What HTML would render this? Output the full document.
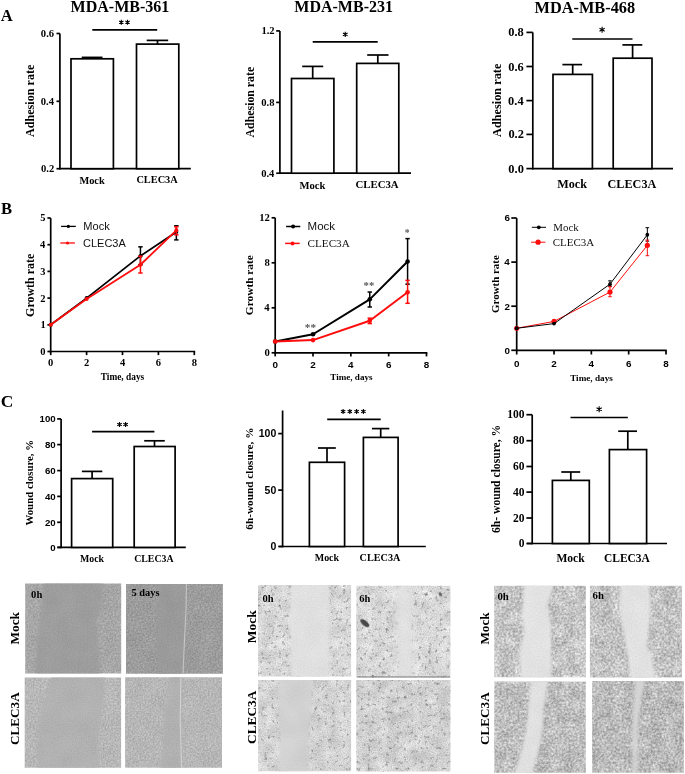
<!DOCTYPE html>
<html><head><meta charset="utf-8"><style>
html,body{margin:0;padding:0;background:#fff;overflow:hidden;}
svg{display:block;will-change:transform;}
</style></head><body>
<svg width="685" height="774" viewBox="0 0 685 774">
<defs>
<filter id="blur2" x="-0.2" y="-0.2" width="1.4" height="1.4"><feGaussianBlur stdDeviation="1.4"/></filter>
<filter id="blur1" x="-0.5" y="-0.5" width="2" height="2"><feGaussianBlur stdDeviation="0.7"/></filter>
<filter id="blur4" x="-0.3" y="-0.3" width="1.6" height="1.6"><feGaussianBlur stdDeviation="3.5"/></filter>
<filter id="blur3" x="-0.5" y="-0.5" width="2" height="2"><feGaussianBlur stdDeviation="2.5"/></filter>
<clipPath id="c1"><rect x="25.2" y="583.5" width="96" height="90.1" /></clipPath>
<filter id="f1" x="0" y="0" width="1" height="1" color-interpolation-filters="sRGB"><feTurbulence type="fractalNoise" baseFrequency="0.6" numOctaves="2" seed="1" result="t1"/><feColorMatrix in="t1" type="matrix" values="1 0 0 0 0 0 0 0 0 0 0 0 0 0 0 0 0 0 0 1" result="g1"/><feTurbulence type="fractalNoise" baseFrequency="0.06" numOctaves="2" seed="8" result="t2"/><feColorMatrix in="t2" type="matrix" values="0 0 0 0 0 1 0 0 0 0 0 0 0 0 0 0 0 0 0 1" result="g2"/><feComposite in="g1" in2="g2" operator="arithmetic" k1="0" k2="1" k3="1" k4="0" result="g3"/><feColorMatrix in="g3" type="matrix" values="0.24 0.05 0 0 0.5099 0.24 0.05 0 0 0.5099 0.24 0.05 0 0 0.5099 0 0 0 0 1"/></filter>
<mask id="m1_0" maskUnits="userSpaceOnUse" x="20.2" y="578.5" width="106" height="100.1"><polygon points="43.44,581.7 41.52,606.02 38.64,628.55 36.72,651.08 34.8,675.4 100.08,675.4 98.16,646.57 97.2,628.55 96.72,619.54 101.04,608.73 102.96,581.7" fill="#fff" filter="url(#blur2)"/></mask>
<filter id="f2" x="0" y="0" width="1" height="1" color-interpolation-filters="sRGB"><feTurbulence type="fractalNoise" baseFrequency="0.8" numOctaves="1" seed="51" result="t1"/><feColorMatrix in="t1" type="matrix" values="1 0 0 0 0 0 0 0 0 0 0 0 0 0 0 0 0 0 0 1" result="g1"/><feTurbulence type="fractalNoise" baseFrequency="0.05" numOctaves="2" seed="58" result="t2"/><feColorMatrix in="t2" type="matrix" values="0 0 0 0 0 1 0 0 0 0 0 0 0 0 0 0 0 0 0 1" result="g2"/><feComposite in="g1" in2="g2" operator="arithmetic" k1="0" k2="1" k3="1" k4="0" result="g3"/><feColorMatrix in="g3" type="matrix" values="0.1 0.04 0 0 0.5457 0.1 0.04 0 0 0.5457 0.1 0.04 0 0 0.5457 0 0 0 0 1"/></filter>
<clipPath id="c2"><rect x="126" y="584" width="96.9" height="89.8" /></clipPath>
<filter id="f3" x="0" y="0" width="1" height="1" color-interpolation-filters="sRGB"><feTurbulence type="fractalNoise" baseFrequency="0.6" numOctaves="2" seed="2" result="t1"/><feColorMatrix in="t1" type="matrix" values="1 0 0 0 0 0 0 0 0 0 0 0 0 0 0 0 0 0 0 1" result="g1"/><feTurbulence type="fractalNoise" baseFrequency="0.06" numOctaves="2" seed="9" result="t2"/><feColorMatrix in="t2" type="matrix" values="0 0 0 0 0 1 0 0 0 0 0 0 0 0 0 0 0 0 0 1" result="g2"/><feComposite in="g1" in2="g2" operator="arithmetic" k1="0" k2="1" k3="1" k4="0" result="g3"/><feColorMatrix in="g3" type="matrix" values="0.24 0.05 0 0 0.4668 0.24 0.05 0 0 0.4668 0.24 0.05 0 0 0.4668 0 0 0 0 1"/></filter>
<mask id="m2_0" maskUnits="userSpaceOnUse" x="121" y="579" width="106.9" height="99.8"><polygon points="157.98,582.2 157.98,628.9 157.01,675.6 183.17,675.6 185.11,628.9 186.08,582.2" fill="#fff" filter="url(#blur2)"/></mask>
<filter id="f4" x="0" y="0" width="1" height="1" color-interpolation-filters="sRGB"><feTurbulence type="fractalNoise" baseFrequency="0.8" numOctaves="1" seed="52" result="t1"/><feColorMatrix in="t1" type="matrix" values="1 0 0 0 0 0 0 0 0 0 0 0 0 0 0 0 0 0 0 1" result="g1"/><feTurbulence type="fractalNoise" baseFrequency="0.05" numOctaves="2" seed="59" result="t2"/><feColorMatrix in="t2" type="matrix" values="0 0 0 0 0 1 0 0 0 0 0 0 0 0 0 0 0 0 0 1" result="g2"/><feComposite in="g1" in2="g2" operator="arithmetic" k1="0" k2="1" k3="1" k4="0" result="g3"/><feColorMatrix in="g3" type="matrix" values="0.1 0.04 0 0 0.5339 0.1 0.04 0 0 0.5339 0.1 0.04 0 0 0.5339 0 0 0 0 1"/></filter>
<clipPath id="c3"><rect x="24.7" y="677.5" width="96.4" height="90.3" /></clipPath>
<filter id="f5" x="0" y="0" width="1" height="1" color-interpolation-filters="sRGB"><feTurbulence type="fractalNoise" baseFrequency="0.6" numOctaves="2" seed="3" result="t1"/><feColorMatrix in="t1" type="matrix" values="1 0 0 0 0 0 0 0 0 0 0 0 0 0 0 0 0 0 0 1" result="g1"/><feTurbulence type="fractalNoise" baseFrequency="0.06" numOctaves="2" seed="10" result="t2"/><feColorMatrix in="t2" type="matrix" values="0 0 0 0 0 1 0 0 0 0 0 0 0 0 0 0 0 0 0 1" result="g2"/><feComposite in="g1" in2="g2" operator="arithmetic" k1="0" k2="1" k3="1" k4="0" result="g3"/><feColorMatrix in="g3" type="matrix" values="0.24 0.05 0 0 0.5726 0.24 0.05 0 0 0.5726 0.24 0.05 0 0 0.5726 0 0 0 0 1"/></filter>
<mask id="m3_0" maskUnits="userSpaceOnUse" x="19.7" y="672.5" width="106.4" height="100.3"><polygon points="51.69,675.69 46.87,695.56 41.09,707.3 38.2,727.16 37.23,769.61 97.48,769.61 98.93,727.16 99.89,715.43 103.75,697.37 104.71,675.69" fill="#fff" filter="url(#blur2)"/></mask>
<filter id="f6" x="0" y="0" width="1" height="1" color-interpolation-filters="sRGB"><feTurbulence type="fractalNoise" baseFrequency="0.8" numOctaves="1" seed="53" result="t1"/><feColorMatrix in="t1" type="matrix" values="1 0 0 0 0 0 0 0 0 0 0 0 0 0 0 0 0 0 0 1" result="g1"/><feTurbulence type="fractalNoise" baseFrequency="0.05" numOctaves="2" seed="60" result="t2"/><feColorMatrix in="t2" type="matrix" values="0 0 0 0 0 1 0 0 0 0 0 0 0 0 0 0 0 0 0 1" result="g2"/><feComposite in="g1" in2="g2" operator="arithmetic" k1="0" k2="1" k3="1" k4="0" result="g3"/><feColorMatrix in="g3" type="matrix" values="0.1 0.04 0 0 0.6241 0.1 0.04 0 0 0.6241 0.1 0.04 0 0 0.6241 0 0 0 0 1"/></filter>
<clipPath id="c4"><rect x="125.1" y="677.3" width="96.9" height="90.5" /></clipPath>
<filter id="f7" x="0" y="0" width="1" height="1" color-interpolation-filters="sRGB"><feTurbulence type="fractalNoise" baseFrequency="0.6" numOctaves="2" seed="4" result="t1"/><feColorMatrix in="t1" type="matrix" values="1 0 0 0 0 0 0 0 0 0 0 0 0 0 0 0 0 0 0 1" result="g1"/><feTurbulence type="fractalNoise" baseFrequency="0.06" numOctaves="2" seed="11" result="t2"/><feColorMatrix in="t2" type="matrix" values="0 0 0 0 0 1 0 0 0 0 0 0 0 0 0 0 0 0 0 1" result="g2"/><feComposite in="g1" in2="g2" operator="arithmetic" k1="0" k2="1" k3="1" k4="0" result="g3"/><feColorMatrix in="g3" type="matrix" values="0.24 0.05 0 0 0.5687 0.24 0.05 0 0 0.5687 0.24 0.05 0 0 0.5687 0 0 0 0 1"/></filter>
<mask id="m4_0" maskUnits="userSpaceOnUse" x="120.1" y="672.3" width="106.9" height="100.5"><polygon points="170.64,675.49 168.7,695.4 164.83,713.5 163.86,731.6 160.95,769.61 181.79,769.61 180.33,722.55 180.82,675.49" fill="#fff" filter="url(#blur2)"/></mask>
<filter id="f8" x="0" y="0" width="1" height="1" color-interpolation-filters="sRGB"><feTurbulence type="fractalNoise" baseFrequency="0.8" numOctaves="1" seed="54" result="t1"/><feColorMatrix in="t1" type="matrix" values="1 0 0 0 0 0 0 0 0 0 0 0 0 0 0 0 0 0 0 1" result="g1"/><feTurbulence type="fractalNoise" baseFrequency="0.05" numOctaves="2" seed="61" result="t2"/><feColorMatrix in="t2" type="matrix" values="0 0 0 0 0 1 0 0 0 0 0 0 0 0 0 0 0 0 0 1" result="g2"/><feComposite in="g1" in2="g2" operator="arithmetic" k1="0" k2="1" k3="1" k4="0" result="g3"/><feColorMatrix in="g3" type="matrix" values="0.1 0.04 0 0 0.6202 0.1 0.04 0 0 0.6202 0.1 0.04 0 0 0.6202 0 0 0 0 1"/></filter>
<clipPath id="c5"><rect x="258" y="585" width="93.1" height="91.6" /></clipPath>
<filter id="f9" x="0" y="0" width="1" height="1" color-interpolation-filters="sRGB"><feTurbulence type="fractalNoise" baseFrequency="0.8" numOctaves="2" seed="5" result="t1"/><feColorMatrix in="t1" type="matrix" values="1 0 0 0 0 0 0 0 0 0 0 0 0 0 0 0 0 0 0 1" result="g1"/><feTurbulence type="fractalNoise" baseFrequency="0.08" numOctaves="2" seed="12" result="t2"/><feColorMatrix in="t2" type="matrix" values="0 0 0 0 0 1 0 0 0 0 0 0 0 0 0 0 0 0 0 1" result="g2"/><feComposite in="g1" in2="g2" operator="arithmetic" k1="0" k2="1" k3="1" k4="0" result="g3"/><feColorMatrix in="g3" type="matrix" values="0.25 0.2 0 0 0.6221 0.25 0.2 0 0 0.6221 0.25 0.2 0 0 0.6221 0 0 0 0 1"/></filter>
<filter id="f10" x="0" y="0" width="1" height="1" color-interpolation-filters="sRGB"><feTurbulence type="fractalNoise" baseFrequency="0.28" numOctaves="2" seed="8"/><feColorMatrix type="matrix" values="0 0 0 0 0.45 0 0 0 0 0.45 0 0 0 0 0.45 -3.0 0 0 0 1.2"/><feGaussianBlur stdDeviation="0.4"/></filter>
<mask id="m5_0" maskUnits="userSpaceOnUse" x="253" y="580" width="103.1" height="101.6"><polygon points="290.59,583.17 289.65,630.8 291.52,678.43 329.69,678.43 328.76,630.8 329.69,583.17" fill="#fff" filter="url(#blur2)"/></mask>
<filter id="f11" x="0" y="0" width="1" height="1" color-interpolation-filters="sRGB"><feTurbulence type="fractalNoise" baseFrequency="0.8" numOctaves="1" seed="55" result="t1"/><feColorMatrix in="t1" type="matrix" values="1 0 0 0 0 0 0 0 0 0 0 0 0 0 0 0 0 0 0 1" result="g1"/><feTurbulence type="fractalNoise" baseFrequency="0.05" numOctaves="2" seed="62" result="t2"/><feColorMatrix in="t2" type="matrix" values="0 0 0 0 0 1 0 0 0 0 0 0 0 0 0 0 0 0 0 1" result="g2"/><feComposite in="g1" in2="g2" operator="arithmetic" k1="0" k2="1" k3="1" k4="0" result="g3"/><feColorMatrix in="g3" type="matrix" values="0.1 0.04 0 0 0.8084 0.1 0.04 0 0 0.8084 0.1 0.04 0 0 0.8084 0 0 0 0 1"/></filter>
<clipPath id="c6"><rect x="356.3" y="585.8" width="94.1" height="92" /></clipPath>
<filter id="f12" x="0" y="0" width="1" height="1" color-interpolation-filters="sRGB"><feTurbulence type="fractalNoise" baseFrequency="0.8" numOctaves="2" seed="6" result="t1"/><feColorMatrix in="t1" type="matrix" values="1 0 0 0 0 0 0 0 0 0 0 0 0 0 0 0 0 0 0 1" result="g1"/><feTurbulence type="fractalNoise" baseFrequency="0.08" numOctaves="2" seed="13" result="t2"/><feColorMatrix in="t2" type="matrix" values="0 0 0 0 0 1 0 0 0 0 0 0 0 0 0 0 0 0 0 1" result="g2"/><feComposite in="g1" in2="g2" operator="arithmetic" k1="0" k2="1" k3="1" k4="0" result="g3"/><feColorMatrix in="g3" type="matrix" values="0.25 0.2 0 0 0.6260 0.25 0.2 0 0 0.6260 0.25 0.2 0 0 0.6260 0 0 0 0 1"/></filter>
<filter id="f13" x="0" y="0" width="1" height="1" color-interpolation-filters="sRGB"><feTurbulence type="fractalNoise" baseFrequency="0.28" numOctaves="2" seed="9"/><feColorMatrix type="matrix" values="0 0 0 0 0.45 0 0 0 0 0.45 0 0 0 0 0.45 -3.0 0 0 0 1.2"/><feGaussianBlur stdDeviation="0.4"/></filter>
<mask id="m6_0" maskUnits="userSpaceOnUse" x="351.3" y="580.8" width="104.1" height="102"><polygon points="394.88,583.96 396.76,631.8 397.7,679.64 414.64,679.64 412.76,631.8 410.88,583.96" fill="#fff" filter="url(#blur4)"/></mask>
<filter id="f14" x="0" y="0" width="1" height="1" color-interpolation-filters="sRGB"><feTurbulence type="fractalNoise" baseFrequency="0.8" numOctaves="1" seed="56" result="t1"/><feColorMatrix in="t1" type="matrix" values="1 0 0 0 0 0 0 0 0 0 0 0 0 0 0 0 0 0 0 1" result="g1"/><feTurbulence type="fractalNoise" baseFrequency="0.05" numOctaves="2" seed="63" result="t2"/><feColorMatrix in="t2" type="matrix" values="0 0 0 0 0 1 0 0 0 0 0 0 0 0 0 0 0 0 0 1" result="g2"/><feComposite in="g1" in2="g2" operator="arithmetic" k1="0" k2="1" k3="1" k4="0" result="g3"/><feColorMatrix in="g3" type="matrix" values="0.1 0.04 0 0 0.8124 0.1 0.04 0 0 0.8124 0.1 0.04 0 0 0.8124 0 0 0 0 1"/></filter>
<clipPath id="c7"><rect x="258.1" y="679.9" width="93" height="91.3" /></clipPath>
<filter id="f15" x="0" y="0" width="1" height="1" color-interpolation-filters="sRGB"><feTurbulence type="fractalNoise" baseFrequency="0.8" numOctaves="2" seed="7" result="t1"/><feColorMatrix in="t1" type="matrix" values="1 0 0 0 0 0 0 0 0 0 0 0 0 0 0 0 0 0 0 1" result="g1"/><feTurbulence type="fractalNoise" baseFrequency="0.08" numOctaves="2" seed="14" result="t2"/><feColorMatrix in="t2" type="matrix" values="0 0 0 0 0 1 0 0 0 0 0 0 0 0 0 0 0 0 0 1" result="g2"/><feComposite in="g1" in2="g2" operator="arithmetic" k1="0" k2="1" k3="1" k4="0" result="g3"/><feColorMatrix in="g3" type="matrix" values="0.25 0.2 0 0 0.6064 0.25 0.2 0 0 0.6064 0.25 0.2 0 0 0.6064 0 0 0 0 1"/></filter>
<filter id="f16" x="0" y="0" width="1" height="1" color-interpolation-filters="sRGB"><feTurbulence type="fractalNoise" baseFrequency="0.28" numOctaves="2" seed="10"/><feColorMatrix type="matrix" values="0 0 0 0 0.45 0 0 0 0 0.45 0 0 0 0 0.45 -3.0 0 0 0 1.15"/><feGaussianBlur stdDeviation="0.4"/></filter>
<mask id="m7_0" maskUnits="userSpaceOnUse" x="253.1" y="674.9" width="103" height="101.3"><polygon points="278.56,678.07 279.49,725.55 278.56,773.03 306.46,773.03 310.18,725.55 313.9,678.07" fill="#fff" filter="url(#blur2)"/></mask>
<filter id="f17" x="0" y="0" width="1" height="1" color-interpolation-filters="sRGB"><feTurbulence type="fractalNoise" baseFrequency="0.8" numOctaves="1" seed="57" result="t1"/><feColorMatrix in="t1" type="matrix" values="1 0 0 0 0 0 0 0 0 0 0 0 0 0 0 0 0 0 0 1" result="g1"/><feTurbulence type="fractalNoise" baseFrequency="0.03" numOctaves="2" seed="64" result="t2"/><feColorMatrix in="t2" type="matrix" values="0 0 0 0 0 1 0 0 0 0 0 0 0 0 0 0 0 0 0 1" result="g2"/><feComposite in="g1" in2="g2" operator="arithmetic" k1="0" k2="1" k3="1" k4="0" result="g3"/><feColorMatrix in="g3" type="matrix" values="0.06 0.08 0 0 0.7457 0.06 0.08 0 0 0.7457 0.06 0.08 0 0 0.7457 0 0 0 0 1"/></filter>
<clipPath id="c8"><rect x="356.3" y="680.1" width="94.1" height="91.5" /></clipPath>
<filter id="f18" x="0" y="0" width="1" height="1" color-interpolation-filters="sRGB"><feTurbulence type="fractalNoise" baseFrequency="0.8" numOctaves="2" seed="8" result="t1"/><feColorMatrix in="t1" type="matrix" values="1 0 0 0 0 0 0 0 0 0 0 0 0 0 0 0 0 0 0 1" result="g1"/><feTurbulence type="fractalNoise" baseFrequency="0.08" numOctaves="2" seed="15" result="t2"/><feColorMatrix in="t2" type="matrix" values="0 0 0 0 0 1 0 0 0 0 0 0 0 0 0 0 0 0 0 1" result="g2"/><feComposite in="g1" in2="g2" operator="arithmetic" k1="0" k2="1" k3="1" k4="0" result="g3"/><feColorMatrix in="g3" type="matrix" values="0.25 0.2 0 0 0.5985 0.25 0.2 0 0 0.5985 0.25 0.2 0 0 0.5985 0 0 0 0 1"/></filter>
<filter id="f19" x="0" y="0" width="1" height="1" color-interpolation-filters="sRGB"><feTurbulence type="fractalNoise" baseFrequency="0.28" numOctaves="2" seed="11"/><feColorMatrix type="matrix" values="0 0 0 0 0.45 0 0 0 0 0.45 0 0 0 0 0.45 -3.0 0 0 0 1.2"/><feGaussianBlur stdDeviation="0.4"/></filter>
<clipPath id="c9"><rect x="494.2" y="585.8" width="91.7" height="91.4" /></clipPath>
<filter id="f20" x="0" y="0" width="1" height="1" color-interpolation-filters="sRGB"><feTurbulence type="fractalNoise" baseFrequency="0.45" numOctaves="2" seed="9" result="t1"/><feColorMatrix in="t1" type="matrix" values="1 0 0 0 0 0 0 0 0 0 0 0 0 0 0 0 0 0 0 1" result="g1"/><feTurbulence type="fractalNoise" baseFrequency="0.08" numOctaves="2" seed="16" result="t2"/><feColorMatrix in="t2" type="matrix" values="0 0 0 0 0 1 0 0 0 0 0 0 0 0 0 0 0 0 0 1" result="g2"/><feComposite in="g1" in2="g2" operator="arithmetic" k1="0" k2="1" k3="1" k4="0" result="g3"/><feColorMatrix in="g3" type="matrix" values="0.45 0.2 0 0 0.4515 0.45 0.2 0 0 0.4515 0.45 0.2 0 0 0.4515 0 0 0 0 1"/></filter>
<mask id="m9_0" maskUnits="userSpaceOnUse" x="489.2" y="580.8" width="101.7" height="101.4"><polygon points="524.46,583.97 521.71,613.22 524.46,631.5 518.96,652.52 521.71,679.03 551.05,679.03 551.05,626.93 546.93,605.91 553.8,583.97" fill="#fff" filter="url(#blur2)"/></mask>
<filter id="f21" x="0" y="0" width="1" height="1" color-interpolation-filters="sRGB"><feTurbulence type="fractalNoise" baseFrequency="0.8" numOctaves="1" seed="59" result="t1"/><feColorMatrix in="t1" type="matrix" values="1 0 0 0 0 0 0 0 0 0 0 0 0 0 0 0 0 0 0 1" result="g1"/><feTurbulence type="fractalNoise" baseFrequency="0.05" numOctaves="2" seed="66" result="t2"/><feColorMatrix in="t2" type="matrix" values="0 0 0 0 0 1 0 0 0 0 0 0 0 0 0 0 0 0 0 1" result="g2"/><feComposite in="g1" in2="g2" operator="arithmetic" k1="0" k2="1" k3="1" k4="0" result="g3"/><feColorMatrix in="g3" type="matrix" values="0.1 0.04 0 0 0.8163 0.1 0.04 0 0 0.8163 0.1 0.04 0 0 0.8163 0 0 0 0 1"/></filter>
<clipPath id="c10"><rect x="589.9" y="585.8" width="92.1" height="91.6" /></clipPath>
<filter id="f22" x="0" y="0" width="1" height="1" color-interpolation-filters="sRGB"><feTurbulence type="fractalNoise" baseFrequency="0.45" numOctaves="2" seed="10" result="t1"/><feColorMatrix in="t1" type="matrix" values="1 0 0 0 0 0 0 0 0 0 0 0 0 0 0 0 0 0 0 1" result="g1"/><feTurbulence type="fractalNoise" baseFrequency="0.08" numOctaves="2" seed="17" result="t2"/><feColorMatrix in="t2" type="matrix" values="0 0 0 0 0 1 0 0 0 0 0 0 0 0 0 0 0 0 0 1" result="g2"/><feComposite in="g1" in2="g2" operator="arithmetic" k1="0" k2="1" k3="1" k4="0" result="g3"/><feColorMatrix in="g3" type="matrix" values="0.45 0.2 0 0 0.4397 0.45 0.2 0 0 0.4397 0.45 0.2 0 0 0.4397 0 0 0 0 1"/></filter>
<mask id="m10_0" maskUnits="userSpaceOnUse" x="584.9" y="580.8" width="102.1" height="101.6"><polygon points="620.29,583.97 620.29,613.28 623.98,633.43 627.66,652.67 630.42,679.23 655.29,679.23 652.53,659.08 647,646.26 648.84,627.02 650.69,605.95 648.84,583.97" fill="#fff" filter="url(#blur2)"/></mask>
<filter id="f23" x="0" y="0" width="1" height="1" color-interpolation-filters="sRGB"><feTurbulence type="fractalNoise" baseFrequency="0.8" numOctaves="1" seed="60" result="t1"/><feColorMatrix in="t1" type="matrix" values="1 0 0 0 0 0 0 0 0 0 0 0 0 0 0 0 0 0 0 1" result="g1"/><feTurbulence type="fractalNoise" baseFrequency="0.05" numOctaves="2" seed="67" result="t2"/><feColorMatrix in="t2" type="matrix" values="0 0 0 0 0 1 0 0 0 0 0 0 0 0 0 0 0 0 0 1" result="g2"/><feComposite in="g1" in2="g2" operator="arithmetic" k1="0" k2="1" k3="1" k4="0" result="g3"/><feColorMatrix in="g3" type="matrix" values="0.1 0.04 0 0 0.8163 0.1 0.04 0 0 0.8163 0.1 0.04 0 0 0.8163 0 0 0 0 1"/></filter>
<clipPath id="c11"><rect x="494.3" y="681.5" width="91.5" height="91.2" /></clipPath>
<filter id="f24" x="0" y="0" width="1" height="1" color-interpolation-filters="sRGB"><feTurbulence type="fractalNoise" baseFrequency="0.45" numOctaves="2" seed="11" result="t1"/><feColorMatrix in="t1" type="matrix" values="1 0 0 0 0 0 0 0 0 0 0 0 0 0 0 0 0 0 0 1" result="g1"/><feTurbulence type="fractalNoise" baseFrequency="0.08" numOctaves="2" seed="18" result="t2"/><feColorMatrix in="t2" type="matrix" values="0 0 0 0 0 1 0 0 0 0 0 0 0 0 0 0 0 0 0 1" result="g2"/><feComposite in="g1" in2="g2" operator="arithmetic" k1="0" k2="1" k3="1" k4="0" result="g3"/><feColorMatrix in="g3" type="matrix" values="0.45 0.2 0 0 0.4201 0.45 0.2 0 0 0.4201 0.45 0.2 0 0 0.4201 0 0 0 0 1"/></filter>
<mask id="m11_0" maskUnits="userSpaceOnUse" x="489.3" y="676.5" width="101.5" height="101.2"><polygon points="530.9,679.68 528.61,708.86 526.33,728.92 521.75,749.9 514.43,774.52 532.27,774.52 538.22,749.9 542.79,728.92 543.71,708.86 548.28,679.68" fill="#fff" filter="url(#blur2)"/></mask>
<filter id="f25" x="0" y="0" width="1" height="1" color-interpolation-filters="sRGB"><feTurbulence type="fractalNoise" baseFrequency="0.8" numOctaves="1" seed="61" result="t1"/><feColorMatrix in="t1" type="matrix" values="1 0 0 0 0 0 0 0 0 0 0 0 0 0 0 0 0 0 0 1" result="g1"/><feTurbulence type="fractalNoise" baseFrequency="0.05" numOctaves="2" seed="68" result="t2"/><feColorMatrix in="t2" type="matrix" values="0 0 0 0 0 1 0 0 0 0 0 0 0 0 0 0 0 0 0 1" result="g2"/><feComposite in="g1" in2="g2" operator="arithmetic" k1="0" k2="1" k3="1" k4="0" result="g3"/><feColorMatrix in="g3" type="matrix" values="0.1 0.04 0 0 0.8084 0.1 0.04 0 0 0.8084 0.1 0.04 0 0 0.8084 0 0 0 0 1"/></filter>
<clipPath id="c12"><rect x="592.1" y="681" width="91.8" height="91.7" /></clipPath>
<filter id="f26" x="0" y="0" width="1" height="1" color-interpolation-filters="sRGB"><feTurbulence type="fractalNoise" baseFrequency="0.45" numOctaves="2" seed="12" result="t1"/><feColorMatrix in="t1" type="matrix" values="1 0 0 0 0 0 0 0 0 0 0 0 0 0 0 0 0 0 0 1" result="g1"/><feTurbulence type="fractalNoise" baseFrequency="0.08" numOctaves="2" seed="19" result="t2"/><feColorMatrix in="t2" type="matrix" values="0 0 0 0 0 1 0 0 0 0 0 0 0 0 0 0 0 0 0 1" result="g2"/><feComposite in="g1" in2="g2" operator="arithmetic" k1="0" k2="1" k3="1" k4="0" result="g3"/><feColorMatrix in="g3" type="matrix" values="0.45 0.2 0 0 0.4044 0.45 0.2 0 0 0.4044 0.45 0.2 0 0 0.4044 0 0 0 0 1"/></filter>
<mask id="m12_0" maskUnits="userSpaceOnUse" x="587.1" y="676" width="101.8" height="101.7"><polygon points="635.25,679.17 632.49,722.26 632.49,774.53 637.08,774.53 638,722.26 644.43,679.17" fill="#fff" filter="url(#blur2)"/></mask>
<filter id="f27" x="0" y="0" width="1" height="1" color-interpolation-filters="sRGB"><feTurbulence type="fractalNoise" baseFrequency="0.8" numOctaves="1" seed="62" result="t1"/><feColorMatrix in="t1" type="matrix" values="1 0 0 0 0 0 0 0 0 0 0 0 0 0 0 0 0 0 0 1" result="g1"/><feTurbulence type="fractalNoise" baseFrequency="0.05" numOctaves="2" seed="69" result="t2"/><feColorMatrix in="t2" type="matrix" values="0 0 0 0 0 1 0 0 0 0 0 0 0 0 0 0 0 0 0 1" result="g2"/><feComposite in="g1" in2="g2" operator="arithmetic" k1="0" k2="1" k3="1" k4="0" result="g3"/><feColorMatrix in="g3" type="matrix" values="0.1 0.04 0 0 0.7614 0.1 0.04 0 0 0.7614 0.1 0.04 0 0 0.7614 0 0 0 0 1"/></filter>
</defs>
<rect width="685" height="774" fill="#fff"/>
<text x="0.83" y="20.6" font-family="Liberation Serif" font-weight="bold" font-size="16.59" fill="#000">A</text>
<text x="70.52" y="12.11" font-family="Liberation Serif" font-weight="bold" font-size="16.05" fill="#000">MDA-MB-361</text>
<line x1="59.9" y1="33.5" x2="59.9" y2="169.5" stroke="#000" stroke-width="1.7"/>
<line x1="56.5" y1="33.5" x2="59.9" y2="33.5" stroke="#000" stroke-width="1.7"/>
<line x1="56.5" y1="101.3" x2="59.9" y2="101.3" stroke="#000" stroke-width="1.7"/>
<line x1="56.5" y1="168.7" x2="59.9" y2="168.7" stroke="#000" stroke-width="1.7"/>
<text x="40.87" y="36.95" font-family="Liberation Serif" font-weight="bold" font-size="10.6" fill="#000">0.6</text>
<text x="40.74" y="104.74" font-family="Liberation Serif" font-weight="bold" font-size="10.6" fill="#000">0.4</text>
<text x="41" y="172.14" font-family="Liberation Serif" font-weight="bold" font-size="10.6" fill="#000">0.2</text>
<line x1="59.05" y1="168.7" x2="190.8" y2="168.7" stroke="#000" stroke-width="1.7"/>
<rect x="71" y="58.8" width="42.4" height="109.9" fill="#fff" stroke="#000" stroke-width="1.7"/>
<line x1="92.2" y1="58.8" x2="92.2" y2="57.4" stroke="#000" stroke-width="1.7"/>
<line x1="81.7" y1="57.4" x2="102.5" y2="57.4" stroke="#000" stroke-width="1.7"/>
<rect x="136.5" y="44.1" width="42.3" height="124.6" fill="#fff" stroke="#000" stroke-width="1.7"/>
<line x1="157.5" y1="44.1" x2="157.5" y2="40.4" stroke="#000" stroke-width="1.7"/>
<line x1="146.7" y1="40.4" x2="168.2" y2="40.4" stroke="#000" stroke-width="1.7"/>
<line x1="92.3" y1="29.9" x2="157.2" y2="29.9" stroke="#000" stroke-width="1.7"/>
<path d="M121.3 24.7L121.3 19.7M119.13 23.45L123.47 20.95M123.47 23.45L119.13 20.95" stroke="#000" stroke-width="1.1" fill="none"/>
<circle cx="121.3" cy="22.2" r="0.88" fill="#000"/>
<path d="M127.5 24.7L127.5 19.7M125.33 23.45L129.67 20.95M129.67 23.45L125.33 20.95" stroke="#000" stroke-width="1.1" fill="none"/>
<circle cx="127.5" cy="22.2" r="0.88" fill="#000"/>
<text x="79.42" y="183.85" font-family="Liberation Serif" font-weight="bold" font-size="10.35" fill="#000">Mock</text>
<text x="136.38" y="183.48" font-family="Liberation Serif" font-weight="bold" font-size="10.35" fill="#000">CLEC3A</text>
<text transform="translate(34.26,137.12) rotate(-90)" font-family="Liberation Serif" font-weight="bold" font-size="12.15" fill="#000">Adhesion rate</text>
<text x="294.32" y="12.07" font-family="Liberation Serif" font-weight="bold" font-size="16.01" fill="#000">MDA-MB-231</text>
<line x1="279.9" y1="30.9" x2="279.9" y2="173.8" stroke="#000" stroke-width="1.7"/>
<line x1="276.2" y1="30.9" x2="279.9" y2="30.9" stroke="#000" stroke-width="1.7"/>
<line x1="276.2" y1="102.4" x2="279.9" y2="102.4" stroke="#000" stroke-width="1.7"/>
<line x1="276.2" y1="173.2" x2="279.9" y2="173.2" stroke="#000" stroke-width="1.7"/>
<text x="261.4" y="34.33" font-family="Liberation Serif" font-weight="bold" font-size="10.6" fill="#000">1.2</text>
<text x="261.29" y="105.84" font-family="Liberation Serif" font-weight="bold" font-size="10.6" fill="#000">0.8</text>
<text x="261.14" y="176.64" font-family="Liberation Serif" font-weight="bold" font-size="10.6" fill="#000">0.4</text>
<line x1="279.05" y1="173.2" x2="411" y2="173.2" stroke="#000" stroke-width="1.7"/>
<rect x="291.5" y="78.5" width="42.4" height="94.7" fill="#fff" stroke="#000" stroke-width="1.7"/>
<line x1="312.7" y1="78.5" x2="312.7" y2="66.4" stroke="#000" stroke-width="1.7"/>
<line x1="302.2" y1="66.4" x2="323.2" y2="66.4" stroke="#000" stroke-width="1.7"/>
<rect x="356.7" y="63.4" width="42.1" height="109.8" fill="#fff" stroke="#000" stroke-width="1.7"/>
<line x1="377.8" y1="63.4" x2="377.8" y2="55" stroke="#000" stroke-width="1.7"/>
<line x1="367.2" y1="55" x2="388.5" y2="55" stroke="#000" stroke-width="1.7"/>
<line x1="312.7" y1="41.9" x2="377.7" y2="41.9" stroke="#000" stroke-width="1.7"/>
<path d="M345.25 37.1L345.25 31.7M342.91 35.75L347.59 33.05M347.59 35.75L342.91 33.05" stroke="#000" stroke-width="1.1" fill="none"/>
<circle cx="345.25" cy="34.4" r="0.88" fill="#000"/>
<text x="299.41" y="188.59" font-family="Liberation Serif" font-weight="bold" font-size="10.64" fill="#000">Mock</text>
<text x="355.46" y="188.38" font-family="Liberation Serif" font-weight="bold" font-size="10.81" fill="#000">CLEC3A</text>
<text transform="translate(254,137.42) rotate(-90)" font-family="Liberation Serif" font-weight="bold" font-size="11.83" fill="#000">Adhesion rate</text>
<text x="534.51" y="12.9" font-family="Liberation Serif" font-weight="bold" font-size="16.34" fill="#000">MDA-MB-468</text>
<line x1="532.8" y1="32.4" x2="532.8" y2="169.4" stroke="#000" stroke-width="1.7"/>
<line x1="526.4" y1="32.4" x2="532.8" y2="32.4" stroke="#000" stroke-width="1.7"/>
<line x1="526.4" y1="66.5" x2="532.8" y2="66.5" stroke="#000" stroke-width="1.7"/>
<line x1="526.4" y1="100.6" x2="532.8" y2="100.6" stroke="#000" stroke-width="1.7"/>
<line x1="526.4" y1="134.4" x2="532.8" y2="134.4" stroke="#000" stroke-width="1.7"/>
<line x1="526.4" y1="168.6" x2="532.8" y2="168.6" stroke="#000" stroke-width="1.7"/>
<text x="508.3" y="36.43" font-family="Liberation Serif" font-weight="bold" font-size="12.4" fill="#000">0.8</text>
<text x="508.27" y="70.53" font-family="Liberation Serif" font-weight="bold" font-size="12.4" fill="#000">0.6</text>
<text x="508.12" y="104.63" font-family="Liberation Serif" font-weight="bold" font-size="12.4" fill="#000">0.4</text>
<text x="508.43" y="138.43" font-family="Liberation Serif" font-weight="bold" font-size="12.4" fill="#000">0.2</text>
<text x="508.37" y="172.63" font-family="Liberation Serif" font-weight="bold" font-size="12.4" fill="#000">0.0</text>
<line x1="531.95" y1="168.6" x2="673" y2="168.6" stroke="#000" stroke-width="1.7"/>
<rect x="553" y="74.4" width="39.4" height="94.2" fill="#fff" stroke="#000" stroke-width="1.7"/>
<line x1="572.7" y1="74.4" x2="572.7" y2="64.6" stroke="#000" stroke-width="1.7"/>
<line x1="562.4" y1="64.6" x2="582.1" y2="64.6" stroke="#000" stroke-width="1.7"/>
<rect x="613.2" y="58.2" width="38.8" height="110.4" fill="#fff" stroke="#000" stroke-width="1.7"/>
<line x1="632.6" y1="58.2" x2="632.6" y2="44.9" stroke="#000" stroke-width="1.7"/>
<line x1="622.4" y1="44.9" x2="642.3" y2="44.9" stroke="#000" stroke-width="1.7"/>
<line x1="572.3" y1="39" x2="632.5" y2="39" stroke="#000" stroke-width="1.7"/>
<path d="M602.1 32.8L602.1 26.8M599.5 31.3L604.7 28.3M604.7 31.3L599.5 28.3" stroke="#000" stroke-width="1.1" fill="none"/>
<circle cx="602.1" cy="29.8" r="0.88" fill="#000"/>
<text x="557.19" y="188.42" font-family="Liberation Serif" font-weight="bold" font-size="12.16" fill="#000">Mock</text>
<text x="607.59" y="188.12" font-family="Liberation Serif" font-weight="bold" font-size="12.18" fill="#000">CLEC3A</text>
<text transform="translate(500.85,136.92) rotate(-90)" font-family="Liberation Serif" font-weight="bold" font-size="12.27" fill="#000">Adhesion rate</text>
<text x="1.01" y="213.66" font-family="Liberation Serif" font-weight="bold" font-size="16.58" fill="#000">B</text>
<line x1="50.7" y1="218.1" x2="50.7" y2="352.35" stroke="#000" stroke-width="1.7"/>
<line x1="47.4" y1="351.5" x2="50.7" y2="351.5" stroke="#000" stroke-width="1.7"/>
<line x1="47.4" y1="324.8" x2="50.7" y2="324.8" stroke="#000" stroke-width="1.7"/>
<line x1="47.4" y1="298.1" x2="50.7" y2="298.1" stroke="#000" stroke-width="1.7"/>
<line x1="47.4" y1="271.4" x2="50.7" y2="271.4" stroke="#000" stroke-width="1.7"/>
<line x1="47.4" y1="244.7" x2="50.7" y2="244.7" stroke="#000" stroke-width="1.7"/>
<line x1="47.4" y1="218" x2="50.7" y2="218" stroke="#000" stroke-width="1.7"/>
<text x="40.24" y="354.94" font-family="Liberation Serif" font-weight="bold" font-size="10.5" fill="#000">0</text>
<text x="40.4" y="328.26" font-family="Liberation Serif" font-weight="bold" font-size="10.5" fill="#000">1</text>
<text x="40.3" y="301.58" font-family="Liberation Serif" font-weight="bold" font-size="10.5" fill="#000">2</text>
<text x="40.22" y="274.83" font-family="Liberation Serif" font-weight="bold" font-size="10.5" fill="#000">3</text>
<text x="40.03" y="248.15" font-family="Liberation Serif" font-weight="bold" font-size="10.5" fill="#000">4</text>
<text x="40.24" y="221.39" font-family="Liberation Serif" font-weight="bold" font-size="10.5" fill="#000">5</text>
<line x1="49.85" y1="351.5" x2="195.15" y2="351.5" stroke="#000" stroke-width="1.7"/>
<line x1="50.7" y1="351.5" x2="50.7" y2="355.1" stroke="#000" stroke-width="1.7"/>
<line x1="86.6" y1="351.5" x2="86.6" y2="355.1" stroke="#000" stroke-width="1.7"/>
<line x1="122.5" y1="351.5" x2="122.5" y2="355.1" stroke="#000" stroke-width="1.7"/>
<line x1="158.4" y1="351.5" x2="158.4" y2="355.1" stroke="#000" stroke-width="1.7"/>
<line x1="194.3" y1="351.5" x2="194.3" y2="355.1" stroke="#000" stroke-width="1.7"/>
<text x="48.08" y="366.44" font-family="Liberation Serif" font-weight="bold" font-size="10.5" fill="#000">0</text>
<text x="83.97" y="366.48" font-family="Liberation Serif" font-weight="bold" font-size="10.5" fill="#000">2</text>
<text x="119.9" y="366.45" font-family="Liberation Serif" font-weight="bold" font-size="10.5" fill="#000">4</text>
<text x="155.75" y="366.43" font-family="Liberation Serif" font-weight="bold" font-size="10.5" fill="#000">6</text>
<text x="191.68" y="366.44" font-family="Liberation Serif" font-weight="bold" font-size="10.5" fill="#000">8</text>
<line x1="140.45" y1="246.84" x2="140.45" y2="264.73" stroke="#000" stroke-width="1.5"/>
<line x1="138.25" y1="246.84" x2="142.65" y2="246.84" stroke="#000" stroke-width="1.5"/>
<line x1="138.25" y1="264.73" x2="142.65" y2="264.73" stroke="#000" stroke-width="1.5"/>
<line x1="176.35" y1="225.74" x2="176.35" y2="239.89" stroke="#000" stroke-width="1.5"/>
<line x1="174.15" y1="225.74" x2="178.55" y2="225.74" stroke="#000" stroke-width="1.5"/>
<line x1="174.15" y1="239.89" x2="178.55" y2="239.89" stroke="#000" stroke-width="1.5"/>
<polyline points="50.7,324.8 86.6,298.1 140.45,255.91 176.35,231.88" fill="none" stroke="#000" stroke-width="1.8" stroke-linejoin="round"/>
<circle cx="50.7" cy="324.8" r="2.0" fill="#000"/>
<circle cx="86.6" cy="298.1" r="2.0" fill="#000"/>
<circle cx="140.45" cy="255.91" r="2.0" fill="#000"/>
<circle cx="176.35" cy="231.88" r="2.0" fill="#000"/>
<line x1="140.45" y1="256.18" x2="140.45" y2="273" stroke="#ff0d0d" stroke-width="1.5"/>
<line x1="138.25" y1="256.18" x2="142.65" y2="256.18" stroke="#ff0d0d" stroke-width="1.5"/>
<line x1="138.25" y1="273" x2="142.65" y2="273" stroke="#ff0d0d" stroke-width="1.5"/>
<line x1="176.35" y1="226.81" x2="176.35" y2="234.82" stroke="#ff0d0d" stroke-width="1.5"/>
<line x1="174.15" y1="226.81" x2="178.55" y2="226.81" stroke="#ff0d0d" stroke-width="1.5"/>
<line x1="174.15" y1="234.82" x2="178.55" y2="234.82" stroke="#ff0d0d" stroke-width="1.5"/>
<polyline points="50.7,324.8 86.6,298.9 140.45,264.73 176.35,230.28" fill="none" stroke="#ff0d0d" stroke-width="1.8" stroke-linejoin="round"/>
<circle cx="50.7" cy="324.8" r="2.0" fill="#ff0d0d"/>
<circle cx="86.6" cy="298.9" r="2.0" fill="#ff0d0d"/>
<circle cx="140.45" cy="264.73" r="2.0" fill="#ff0d0d"/>
<circle cx="176.35" cy="230.28" r="2.0" fill="#ff0d0d"/>
<line x1="61.1" y1="226.4" x2="75.8" y2="226.4" stroke="#000" stroke-width="1.3"/>
<circle cx="68.4" cy="226.4" r="1.6" fill="#000"/>
<text x="83.29" y="230.15" font-family="Liberation Sans" font-size="11.05" fill="#111">Mock</text>
<line x1="60.3" y1="243" x2="74.9" y2="243" stroke="#ff0d0d" stroke-width="1.3"/>
<circle cx="67.5" cy="243" r="1.6" fill="#ff0d0d"/>
<text x="83.05" y="246.62" font-family="Liberation Sans" font-size="10.97" fill="#111">CLEC3A</text>
<text x="100.76" y="380.05" font-family="Liberation Serif" font-weight="bold" font-size="9.37" fill="#000">Time, days</text>
<text transform="translate(34.34,316.9) rotate(-90)" font-family="Liberation Serif" font-weight="bold" font-size="11.94" fill="#000">Growth rate</text>
<line x1="275.2" y1="217.8" x2="275.2" y2="353.65" stroke="#000" stroke-width="1.7"/>
<line x1="271.6" y1="352.8" x2="275.2" y2="352.8" stroke="#000" stroke-width="1.7"/>
<line x1="271.6" y1="307.8" x2="275.2" y2="307.8" stroke="#000" stroke-width="1.7"/>
<line x1="271.6" y1="262.8" x2="275.2" y2="262.8" stroke="#000" stroke-width="1.7"/>
<line x1="271.6" y1="217.8" x2="275.2" y2="217.8" stroke="#000" stroke-width="1.7"/>
<text x="264.55" y="356.3" font-family="Liberation Serif" font-weight="bold" font-size="10.7" fill="#000">0</text>
<text x="264.34" y="311.32" font-family="Liberation Serif" font-weight="bold" font-size="10.7" fill="#000">4</text>
<text x="264.5" y="266.3" font-family="Liberation Serif" font-weight="bold" font-size="10.7" fill="#000">8</text>
<text x="259.25" y="221.34" font-family="Liberation Serif" font-weight="bold" font-size="10.7" fill="#000">12</text>
<line x1="274.35" y1="352.8" x2="427.35" y2="352.8" stroke="#000" stroke-width="1.7"/>
<line x1="275.2" y1="352.8" x2="275.2" y2="356.4" stroke="#000" stroke-width="1.7"/>
<line x1="313.02" y1="352.8" x2="313.02" y2="356.4" stroke="#000" stroke-width="1.7"/>
<line x1="350.85" y1="352.8" x2="350.85" y2="356.4" stroke="#000" stroke-width="1.7"/>
<line x1="388.68" y1="352.8" x2="388.68" y2="356.4" stroke="#000" stroke-width="1.7"/>
<line x1="426.5" y1="352.8" x2="426.5" y2="356.4" stroke="#000" stroke-width="1.7"/>
<text x="272.45" y="368.1" font-family="Liberation Sans" font-weight="bold" font-size="9.9" fill="#000">0</text>
<text x="310.3" y="368.15" font-family="Liberation Sans" font-weight="bold" font-size="9.9" fill="#000">2</text>
<text x="348.05" y="368.1" font-family="Liberation Sans" font-weight="bold" font-size="9.9" fill="#000">4</text>
<text x="385.92" y="368.1" font-family="Liberation Sans" font-weight="bold" font-size="9.9" fill="#000">6</text>
<text x="423.74" y="368.1" font-family="Liberation Sans" font-weight="bold" font-size="9.9" fill="#000">8</text>
<line x1="369.76" y1="292.05" x2="369.76" y2="307.01" stroke="#000" stroke-width="1.5"/>
<line x1="367.56" y1="292.05" x2="371.96" y2="292.05" stroke="#000" stroke-width="1.5"/>
<line x1="367.56" y1="307.01" x2="371.96" y2="307.01" stroke="#000" stroke-width="1.5"/>
<line x1="407.59" y1="238.61" x2="407.59" y2="284.18" stroke="#000" stroke-width="1.5"/>
<line x1="405.39" y1="238.61" x2="409.79" y2="238.61" stroke="#000" stroke-width="1.5"/>
<line x1="405.39" y1="284.18" x2="409.79" y2="284.18" stroke="#000" stroke-width="1.5"/>
<polyline points="275.2,341.55 313.02,334.24 369.76,299.36 407.59,261.45" fill="none" stroke="#000" stroke-width="2.0" stroke-linejoin="round"/>
<circle cx="275.2" cy="341.55" r="2.3" fill="#000"/>
<circle cx="313.02" cy="334.24" r="2.3" fill="#000"/>
<circle cx="369.76" cy="299.36" r="2.3" fill="#000"/>
<circle cx="407.59" cy="261.45" r="2.3" fill="#000"/>
<line x1="369.76" y1="318.15" x2="369.76" y2="323.55" stroke="#ff0d0d" stroke-width="1.5"/>
<line x1="367.56" y1="318.15" x2="371.96" y2="318.15" stroke="#ff0d0d" stroke-width="1.5"/>
<line x1="367.56" y1="323.55" x2="371.96" y2="323.55" stroke="#ff0d0d" stroke-width="1.5"/>
<line x1="407.59" y1="280.35" x2="407.59" y2="303.3" stroke="#ff0d0d" stroke-width="1.5"/>
<line x1="405.39" y1="280.35" x2="409.79" y2="280.35" stroke="#ff0d0d" stroke-width="1.5"/>
<line x1="405.39" y1="303.3" x2="409.79" y2="303.3" stroke="#ff0d0d" stroke-width="1.5"/>
<polyline points="275.2,341.55 313.02,340.09 369.76,320.74 407.59,292.28" fill="none" stroke="#ff0d0d" stroke-width="2.0" stroke-linejoin="round"/>
<circle cx="275.2" cy="341.55" r="2.3" fill="#ff0d0d"/>
<circle cx="313.02" cy="340.09" r="2.3" fill="#ff0d0d"/>
<circle cx="369.76" cy="320.74" r="2.3" fill="#ff0d0d"/>
<circle cx="407.59" cy="292.28" r="2.3" fill="#ff0d0d"/>
<text x="304.83" y="330.85" font-family="Liberation Serif" font-weight="bold" font-size="11.15" fill="#555">**</text>
<text x="363.54" y="289.45" font-family="Liberation Serif" font-weight="bold" font-size="10.71" fill="#555">**</text>
<text x="404.79" y="235.64" font-family="Liberation Serif" font-weight="bold" font-size="9.64" fill="#555">*</text>
<line x1="286.1" y1="226.5" x2="300.3" y2="226.5" stroke="#000" stroke-width="1.5"/>
<circle cx="293.1" cy="226.5" r="2.0" fill="#000"/>
<text x="307.55" y="230.27" font-family="Liberation Sans" font-size="11.53" fill="#111">Mock</text>
<line x1="285.1" y1="243.4" x2="299.7" y2="243.4" stroke="#ff0d0d" stroke-width="1.5"/>
<circle cx="292.5" cy="243.4" r="2.0" fill="#ff0d0d"/>
<text x="307.55" y="246.95" font-family="Liberation Serif" font-size="11.18" fill="#111">CLEC3A</text>
<text x="330.26" y="379.64" font-family="Liberation Serif" font-weight="bold" font-size="9.11" fill="#000">Time, days</text>
<text transform="translate(252.94,315.17) rotate(-90)" font-family="Liberation Serif" font-weight="bold" font-size="11.36" fill="#000">Growth rate</text>
<line x1="516.7" y1="218.1" x2="516.7" y2="351.05" stroke="#000" stroke-width="1.7"/>
<line x1="511.3" y1="350.3" x2="516.7" y2="350.3" stroke="#000" stroke-width="1.7"/>
<line x1="511.3" y1="306.2" x2="516.7" y2="306.2" stroke="#000" stroke-width="1.7"/>
<line x1="511.3" y1="262.1" x2="516.7" y2="262.1" stroke="#000" stroke-width="1.7"/>
<line x1="511.3" y1="218" x2="516.7" y2="218" stroke="#000" stroke-width="1.7"/>
<text x="504.55" y="353.67" font-family="Liberation Sans" font-weight="bold" font-size="9.8" fill="#000">0</text>
<text x="504.55" y="309.62" font-family="Liberation Sans" font-weight="bold" font-size="9.8" fill="#000">2</text>
<text x="504.21" y="265.47" font-family="Liberation Sans" font-weight="bold" font-size="9.8" fill="#000">4</text>
<text x="504.5" y="221.37" font-family="Liberation Sans" font-weight="bold" font-size="9.8" fill="#000">6</text>
<line x1="515.95" y1="350.3" x2="666.75" y2="350.3" stroke="#000" stroke-width="1.7"/>
<line x1="516.7" y1="350.3" x2="516.7" y2="354.5" stroke="#000" stroke-width="1.7"/>
<line x1="554.03" y1="350.3" x2="554.03" y2="354.5" stroke="#000" stroke-width="1.7"/>
<line x1="591.35" y1="350.3" x2="591.35" y2="354.5" stroke="#000" stroke-width="1.7"/>
<line x1="628.67" y1="350.3" x2="628.67" y2="354.5" stroke="#000" stroke-width="1.7"/>
<line x1="666" y1="350.3" x2="666" y2="354.5" stroke="#000" stroke-width="1.7"/>
<text x="513.95" y="366.9" font-family="Liberation Sans" font-weight="bold" font-size="9.9" fill="#000">0</text>
<text x="551.3" y="366.95" font-family="Liberation Sans" font-weight="bold" font-size="9.9" fill="#000">2</text>
<text x="588.55" y="366.9" font-family="Liberation Sans" font-weight="bold" font-size="9.9" fill="#000">4</text>
<text x="625.92" y="366.9" font-family="Liberation Sans" font-weight="bold" font-size="9.9" fill="#000">6</text>
<text x="663.24" y="366.9" font-family="Liberation Sans" font-weight="bold" font-size="9.9" fill="#000">8</text>
<line x1="610.01" y1="280.84" x2="610.01" y2="286.36" stroke="#000" stroke-width="1.0"/>
<line x1="608.21" y1="280.84" x2="611.81" y2="280.84" stroke="#000" stroke-width="1.0"/>
<line x1="608.21" y1="286.36" x2="611.81" y2="286.36" stroke="#000" stroke-width="1.0"/>
<line x1="647.34" y1="227.7" x2="647.34" y2="241.15" stroke="#000" stroke-width="1.0"/>
<line x1="645.54" y1="227.7" x2="649.14" y2="227.7" stroke="#000" stroke-width="1.0"/>
<line x1="645.54" y1="241.15" x2="649.14" y2="241.15" stroke="#000" stroke-width="1.0"/>
<line x1="610.01" y1="286.8" x2="610.01" y2="296.72" stroke="#ff0d0d" stroke-width="1.0"/>
<line x1="608.21" y1="286.8" x2="611.81" y2="286.8" stroke="#ff0d0d" stroke-width="1.0"/>
<line x1="608.21" y1="296.72" x2="611.81" y2="296.72" stroke="#ff0d0d" stroke-width="1.0"/>
<line x1="647.34" y1="240.05" x2="647.34" y2="255.71" stroke="#ff0d0d" stroke-width="1.0"/>
<line x1="645.54" y1="240.05" x2="649.14" y2="240.05" stroke="#ff0d0d" stroke-width="1.0"/>
<line x1="645.54" y1="255.71" x2="649.14" y2="255.71" stroke="#ff0d0d" stroke-width="1.0"/>
<polyline points="516.7,328.25 554.03,321.41 610.01,292.09 647.34,245.34" fill="none" stroke="#ff0d0d" stroke-width="1.0" stroke-linejoin="round"/>
<circle cx="516.7" cy="328.25" r="2.6" fill="#ff0d0d"/>
<circle cx="554.03" cy="321.41" r="2.6" fill="#ff0d0d"/>
<circle cx="610.01" cy="292.09" r="2.6" fill="#ff0d0d"/>
<circle cx="647.34" cy="245.34" r="2.6" fill="#ff0d0d"/>
<polyline points="516.7,328.25 554.03,323.62 610.01,284.15 647.34,234.76" fill="none" stroke="#000" stroke-width="1.0" stroke-linejoin="round"/>
<circle cx="516.7" cy="328.25" r="1.9" fill="#000"/>
<circle cx="554.03" cy="323.62" r="1.9" fill="#000"/>
<circle cx="610.01" cy="284.15" r="1.9" fill="#000"/>
<circle cx="647.34" cy="234.76" r="1.9" fill="#000"/>
<line x1="531.8" y1="227.3" x2="546" y2="227.3" stroke="#000" stroke-width="1.0"/>
<circle cx="538.8" cy="227.3" r="1.9" fill="#000"/>
<text x="553.27" y="230.98" font-family="Liberation Serif" font-size="10.9" fill="#111">Mock</text>
<line x1="531.1" y1="242.2" x2="545.4" y2="242.2" stroke="#ff0d0d" stroke-width="1.0"/>
<circle cx="538.1" cy="242.2" r="2.6" fill="#ff0d0d"/>
<text x="552.76" y="245.87" font-family="Liberation Serif" font-size="10.94" fill="#111">CLEC3A</text>
<text x="570.16" y="380.55" font-family="Liberation Serif" font-weight="bold" font-size="9.18" fill="#000">Time, days</text>
<text transform="translate(498.95,313.05) rotate(-90)" font-family="Liberation Serif" font-weight="bold" font-size="10.96" fill="#000">Growth rate</text>
<text x="0.73" y="407.33" font-family="Liberation Serif" font-weight="bold" font-size="17.4" fill="#000">C</text>
<line x1="61.1" y1="418.9" x2="61.1" y2="548.2" stroke="#000" stroke-width="1.7"/>
<line x1="57.2" y1="418.9" x2="61.1" y2="418.9" stroke="#000" stroke-width="1.7"/>
<line x1="57.2" y1="444.6" x2="61.1" y2="444.6" stroke="#000" stroke-width="1.7"/>
<line x1="57.2" y1="470.6" x2="61.1" y2="470.6" stroke="#000" stroke-width="1.7"/>
<line x1="57.2" y1="496.4" x2="61.1" y2="496.4" stroke="#000" stroke-width="1.7"/>
<line x1="57.2" y1="522.3" x2="61.1" y2="522.3" stroke="#000" stroke-width="1.7"/>
<line x1="57.2" y1="547.4" x2="61.1" y2="547.4" stroke="#000" stroke-width="1.7"/>
<text x="39.51" y="422.23" font-family="Liberation Sans" font-weight="bold" font-size="9.7" fill="#000">100</text>
<text x="44.92" y="447.93" font-family="Liberation Sans" font-weight="bold" font-size="9.7" fill="#000">80</text>
<text x="44.92" y="473.93" font-family="Liberation Sans" font-weight="bold" font-size="9.7" fill="#000">60</text>
<text x="44.92" y="499.73" font-family="Liberation Sans" font-weight="bold" font-size="9.7" fill="#000">40</text>
<text x="44.92" y="525.63" font-family="Liberation Sans" font-weight="bold" font-size="9.7" fill="#000">20</text>
<text x="50.3" y="550.73" font-family="Liberation Sans" font-weight="bold" font-size="9.7" fill="#000">0</text>
<line x1="57.5" y1="547.4" x2="185.8" y2="547.4" stroke="#000" stroke-width="1.7"/>
<rect x="71.6" y="478.6" width="41.1" height="68.8" fill="#fff" stroke="#000" stroke-width="1.7"/>
<line x1="92.1" y1="478.6" x2="92.1" y2="471.4" stroke="#000" stroke-width="1.7"/>
<line x1="81.9" y1="471.4" x2="102.3" y2="471.4" stroke="#000" stroke-width="1.7"/>
<rect x="134.2" y="446.5" width="40.9" height="100.9" fill="#fff" stroke="#000" stroke-width="1.7"/>
<line x1="154.5" y1="446.5" x2="154.5" y2="440.8" stroke="#000" stroke-width="1.7"/>
<line x1="144.2" y1="440.8" x2="164.8" y2="440.8" stroke="#000" stroke-width="1.7"/>
<line x1="92.1" y1="431.6" x2="154.4" y2="431.6" stroke="#000" stroke-width="1.7"/>
<path d="M119.5 427.1L119.5 421.9M117.25 425.8L121.75 423.2M121.75 425.8L117.25 423.2" stroke="#000" stroke-width="1.1" fill="none"/>
<circle cx="119.5" cy="424.5" r="0.88" fill="#000"/>
<path d="M125.6 427.1L125.6 421.9M123.35 425.8L127.85 423.2M127.85 425.8L123.35 423.2" stroke="#000" stroke-width="1.1" fill="none"/>
<circle cx="125.6" cy="424.5" r="0.88" fill="#000"/>
<text x="79.93" y="561.98" font-family="Liberation Serif" font-weight="bold" font-size="9.86" fill="#000">Mock</text>
<text x="134.21" y="561.81" font-family="Liberation Serif" font-weight="bold" font-size="9.84" fill="#000">CLEC3A</text>
<text transform="translate(32.93,525.56) rotate(-90)" font-family="Liberation Serif" font-weight="bold" font-size="10.85" fill="#000">Wound closure, %</text>
<line x1="282.6" y1="410.5" x2="282.6" y2="547.3" stroke="#000" stroke-width="1.7"/>
<line x1="278.2" y1="433.6" x2="282.6" y2="433.6" stroke="#000" stroke-width="1.7"/>
<line x1="278.2" y1="490.1" x2="282.6" y2="490.1" stroke="#000" stroke-width="1.7"/>
<line x1="278.2" y1="546.5" x2="282.6" y2="546.5" stroke="#000" stroke-width="1.7"/>
<text x="258.71" y="437.21" font-family="Liberation Sans" font-weight="bold" font-size="10.5" fill="#000">100</text>
<text x="264.56" y="493.71" font-family="Liberation Sans" font-weight="bold" font-size="10.5" fill="#000">50</text>
<text x="270.39" y="550.11" font-family="Liberation Sans" font-weight="bold" font-size="10.5" fill="#000">0</text>
<line x1="279.2" y1="546.5" x2="425.8" y2="546.5" stroke="#000" stroke-width="1.7"/>
<rect x="309.4" y="462.3" width="35.2" height="84.2" fill="#fff" stroke="#000" stroke-width="1.7"/>
<line x1="327" y1="462.3" x2="327" y2="448" stroke="#000" stroke-width="1.7"/>
<line x1="318" y1="448" x2="335.8" y2="448" stroke="#000" stroke-width="1.7"/>
<rect x="363.4" y="437.4" width="34.7" height="109.1" fill="#fff" stroke="#000" stroke-width="1.7"/>
<line x1="380.7" y1="437.4" x2="380.7" y2="428.6" stroke="#000" stroke-width="1.7"/>
<line x1="371.9" y1="428.6" x2="389.3" y2="428.6" stroke="#000" stroke-width="1.7"/>
<line x1="327.2" y1="419.4" x2="380.7" y2="419.4" stroke="#000" stroke-width="1.7"/>
<path d="M343.1 413.9L343.1 408.9M340.93 412.65L345.27 410.15M345.27 412.65L340.93 410.15" stroke="#000" stroke-width="1.1" fill="none"/>
<circle cx="343.1" cy="411.4" r="0.88" fill="#000"/>
<path d="M349.8 413.9L349.8 408.9M347.63 412.65L351.97 410.15M351.97 412.65L347.63 410.15" stroke="#000" stroke-width="1.1" fill="none"/>
<circle cx="349.8" cy="411.4" r="0.88" fill="#000"/>
<path d="M356.6 413.9L356.6 408.9M354.43 412.65L358.77 410.15M358.77 412.65L354.43 410.15" stroke="#000" stroke-width="1.1" fill="none"/>
<circle cx="356.6" cy="411.4" r="0.88" fill="#000"/>
<path d="M363.4 413.9L363.4 408.9M361.23 412.65L365.57 410.15M365.57 412.65L361.23 410.15" stroke="#000" stroke-width="1.1" fill="none"/>
<circle cx="363.4" cy="411.4" r="0.88" fill="#000"/>
<text x="314.73" y="561.22" font-family="Liberation Serif" font-weight="bold" font-size="9.98" fill="#000">Mock</text>
<text x="359.59" y="561.13" font-family="Liberation Serif" font-weight="bold" font-size="10.2" fill="#000">CLEC3A</text>
<text transform="translate(252.6,529.69) rotate(-90)" font-family="Liberation Serif" font-weight="bold" font-size="11.28" fill="#000">6h-wound closure, %</text>
<line x1="532.2" y1="414.7" x2="532.2" y2="544.3" stroke="#000" stroke-width="1.7"/>
<line x1="526.4" y1="414.7" x2="532.2" y2="414.7" stroke="#000" stroke-width="1.7"/>
<line x1="526.4" y1="440.7" x2="532.2" y2="440.7" stroke="#000" stroke-width="1.7"/>
<line x1="526.4" y1="466.5" x2="532.2" y2="466.5" stroke="#000" stroke-width="1.7"/>
<line x1="526.4" y1="492.1" x2="532.2" y2="492.1" stroke="#000" stroke-width="1.7"/>
<line x1="526.4" y1="518" x2="532.2" y2="518" stroke="#000" stroke-width="1.7"/>
<line x1="526.4" y1="543.5" x2="532.2" y2="543.5" stroke="#000" stroke-width="1.7"/>
<text x="507.28" y="418.47" font-family="Liberation Serif" font-weight="bold" font-size="11.5" fill="#000">100</text>
<text x="513.03" y="444.47" font-family="Liberation Serif" font-weight="bold" font-size="11.5" fill="#000">80</text>
<text x="513.03" y="470.27" font-family="Liberation Serif" font-weight="bold" font-size="11.5" fill="#000">60</text>
<text x="513.03" y="495.87" font-family="Liberation Serif" font-weight="bold" font-size="11.5" fill="#000">40</text>
<text x="513.03" y="521.77" font-family="Liberation Serif" font-weight="bold" font-size="11.5" fill="#000">20</text>
<text x="518.78" y="547.27" font-family="Liberation Serif" font-weight="bold" font-size="11.5" fill="#000">0</text>
<line x1="526.9" y1="543.5" x2="667" y2="543.5" stroke="#000" stroke-width="1.7"/>
<rect x="552.4" y="480.4" width="36.9" height="63.1" fill="#fff" stroke="#000" stroke-width="1.7"/>
<line x1="570.8" y1="480.4" x2="570.8" y2="472" stroke="#000" stroke-width="1.7"/>
<line x1="561.3" y1="472" x2="580.2" y2="472" stroke="#000" stroke-width="1.7"/>
<rect x="609.4" y="449.6" width="37.2" height="93.9" fill="#fff" stroke="#000" stroke-width="1.7"/>
<line x1="627.8" y1="449.6" x2="627.8" y2="431.2" stroke="#000" stroke-width="1.7"/>
<line x1="618.2" y1="431.2" x2="637" y2="431.2" stroke="#000" stroke-width="1.7"/>
<line x1="570.5" y1="417.5" x2="627.8" y2="417.5" stroke="#000" stroke-width="1.7"/>
<path d="M599.15 412.3L599.15 406.3M596.55 410.8L601.75 407.8M601.75 410.8L596.55 407.8" stroke="#000" stroke-width="1.1" fill="none"/>
<circle cx="599.15" cy="409.3" r="0.88" fill="#000"/>
<text x="556.4" y="562.2" font-family="Liberation Serif" font-weight="bold" font-size="11.55" fill="#000">Mock</text>
<text x="604.03" y="561.99" font-family="Liberation Serif" font-weight="bold" font-size="11.46" fill="#000">CLEC3A</text>
<text transform="translate(499.54,533.01) rotate(-90)" font-family="Liberation Serif" font-weight="bold" font-size="11.61" fill="#000">6h- wound closure, %</text>
<g clip-path="url(#c1)">
<rect x="25.2" y="583.5" width="96" height="90.1" fill="#888" filter="url(#f1)"/>
<rect x="25.2" y="583.5" width="96" height="90.1" fill="#888" filter="url(#f2)" mask="url(#m1_0)"/>
</g>
<g clip-path="url(#c2)">
<rect x="126" y="584" width="96.9" height="89.8" fill="#888" filter="url(#f3)"/>
<rect x="126" y="584" width="96.9" height="89.8" fill="#888" filter="url(#f4)" mask="url(#m2_0)"/>
<polyline points="186.5,584 186,610 184.5,640 183,674" fill="none" stroke="#d0d0d0" stroke-width="1.1" opacity="0.8" filter="url(#blur1)"/>
</g>
<g clip-path="url(#c3)">
<rect x="24.7" y="677.5" width="96.4" height="90.3" fill="#888" filter="url(#f5)"/>
<rect x="24.7" y="677.5" width="96.4" height="90.3" fill="#888" filter="url(#f6)" mask="url(#m3_0)"/>
</g>
<g clip-path="url(#c4)">
<rect x="125.1" y="677.3" width="96.9" height="90.5" fill="#888" filter="url(#f7)"/>
<rect x="125.1" y="677.3" width="96.9" height="90.5" fill="#888" filter="url(#f8)" mask="url(#m4_0)"/>
<polyline points="180.9,677 180.2,722 181.7,768" fill="none" stroke="#d8d8d8" stroke-width="1.1" opacity="0.8" filter="url(#blur1)"/>
</g>
<text x="31.1" y="597.92" font-family="Liberation Serif" font-weight="bold" font-size="10.57" fill="#000">0h</text>
<text x="131.48" y="596.09" font-family="Liberation Serif" font-weight="bold" font-size="10.38" fill="#000">5 days</text>
<text transform="translate(19.31,644.53) rotate(-90)" font-family="Liberation Serif" font-weight="bold" font-size="13.32" fill="#000">Mock</text>
<text transform="translate(19.04,744.96) rotate(-90)" font-family="Liberation Serif" font-weight="bold" font-size="13.16" fill="#000">CLEC3A</text>
<g clip-path="url(#c5)">
<rect x="258" y="585" width="93.1" height="91.6" fill="#888" filter="url(#f9)"/>
<rect x="258" y="585" width="93.1" height="91.6" fill="#000" filter="url(#f10)"/>
<rect x="258" y="585" width="93.1" height="91.6" fill="#888" filter="url(#f11)" mask="url(#m5_0)"/>
</g>
<g clip-path="url(#c6)">
<rect x="356.3" y="585.8" width="94.1" height="92" fill="#888" filter="url(#f12)"/>
<rect x="356.3" y="585.8" width="94.1" height="92" fill="#000" filter="url(#f13)"/>
<rect x="356.3" y="585.8" width="94.1" height="92" fill="#888" filter="url(#f14)" mask="url(#m6_0)"/>
<ellipse cx="364.8" cy="623.2" rx="5.4" ry="2.6" fill="#4a4a4a" transform="rotate(40 364.8 623.2)" filter="url(#blur1)"/>
<ellipse cx="440.5" cy="594.3" rx="2.2" ry="1.6" fill="#666" transform="rotate(60 440.5 594.3)" filter="url(#blur1)"/>
<line x1="357" y1="677" x2="450" y2="677" stroke="#777" stroke-width="1.2"/>
</g>
<g clip-path="url(#c7)">
<rect x="258.1" y="679.9" width="93" height="91.3" fill="#888" filter="url(#f15)"/>
<rect x="258.1" y="679.9" width="93" height="91.3" fill="#000" filter="url(#f16)"/>
<rect x="258.1" y="679.9" width="93" height="91.3" fill="#888" filter="url(#f17)" mask="url(#m7_0)"/>
</g>
<g clip-path="url(#c8)">
<rect x="356.3" y="680.1" width="94.1" height="91.5" fill="#888" filter="url(#f18)"/>
<rect x="356.3" y="680.1" width="94.1" height="91.5" fill="#000" filter="url(#f19)"/>
</g>
<text x="262.51" y="602.09" font-family="Liberation Serif" font-weight="bold" font-size="10.47" fill="#000">0h</text>
<text x="359.33" y="602.18" font-family="Liberation Serif" font-weight="bold" font-size="10.45" fill="#000">6h</text>
<text transform="translate(255.75,643.14) rotate(-90)" font-family="Liberation Serif" font-weight="bold" font-size="13.44" fill="#000">Mock</text>
<text transform="translate(255.5,743.97) rotate(-90)" font-family="Liberation Serif" font-weight="bold" font-size="13.34" fill="#000">CLEC3A</text>
<g clip-path="url(#c9)">
<rect x="494.2" y="585.8" width="91.7" height="91.4" fill="#888" filter="url(#f20)"/>
<rect x="494.2" y="585.8" width="91.7" height="91.4" fill="#888" filter="url(#f21)" mask="url(#m9_0)"/>
</g>
<g clip-path="url(#c10)">
<rect x="589.9" y="585.8" width="92.1" height="91.6" fill="#888" filter="url(#f22)"/>
<rect x="589.9" y="585.8" width="92.1" height="91.6" fill="#888" filter="url(#f23)" mask="url(#m10_0)"/>
</g>
<g clip-path="url(#c11)">
<rect x="494.3" y="681.5" width="91.5" height="91.2" fill="#888" filter="url(#f24)"/>
<rect x="494.3" y="681.5" width="91.5" height="91.2" fill="#888" filter="url(#f25)" mask="url(#m11_0)"/>
</g>
<g clip-path="url(#c12)">
<rect x="592.1" y="681" width="91.8" height="91.7" fill="#888" filter="url(#f26)"/>
<rect x="592.1" y="681" width="91.8" height="91.7" fill="#888" filter="url(#f27)" mask="url(#m12_0)"/>
</g>
<text x="497.4" y="599.54" font-family="Liberation Serif" font-weight="bold" font-size="10.77" fill="#000">0h</text>
<text x="592.62" y="599.18" font-family="Liberation Serif" font-weight="bold" font-size="10.75" fill="#000">6h</text>
<text transform="translate(489.26,644.53) rotate(-90)" font-family="Liberation Serif" font-weight="bold" font-size="13.15" fill="#000">Mock</text>
<text transform="translate(489.04,744.96) rotate(-90)" font-family="Liberation Serif" font-weight="bold" font-size="13.16" fill="#000">CLEC3A</text>
</svg>
</body></html>
